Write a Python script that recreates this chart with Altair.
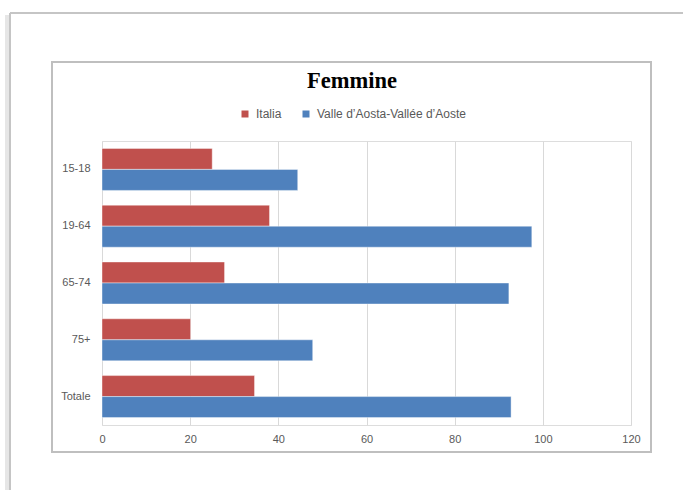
import altair as alt
import pandas as pd

title_text = "Femmine"
categories = ["15-18", "19-64", "65-74", "75+", "Totale"]
series = ["Italia", "Valle d’Aosta-Vallée d’Aoste"]
italia = [25.0, 38.0, 27.8, 20.1, 34.6]
valle = [44.4, 97.5, 92.3, 47.8, 92.8]
x_ticks = [0, 20, 40, 60, 80, 100, 120]
colors = ["#C0504D", "#4F81BD"]

rows = []
for c, a, b in zip(categories, italia, valle):
    rows.append({"cat": c, "serie": series[0], "val": a})
    rows.append({"cat": c, "serie": series[1], "val": b})
df = pd.DataFrame(rows)

W, H = 529, 284
PL, PT = 102, 141

bars = alt.Chart(df).mark_bar(stroke="white", strokeWidth=0.6, strokeOpacity=0.7).encode(
    y=alt.Y("cat:N", sort=categories, title=None,
            scale=alt.Scale(paddingInner=0.26, paddingOuter=0.13),
            axis=alt.Axis(domain=False, ticks=False, labelPadding=12, labelFontSize=11,
                          labelColor="#595959", labelFont="Liberation Sans")),
    yOffset=alt.YOffset("serie:N", sort=series),
    x=alt.X("val:Q", title=None, scale=alt.Scale(domain=[0, 120], nice=False),
            axis=alt.Axis(values=x_ticks, domain=False, ticks=False, grid=True,
                          gridColor="#D9D9D9", gridWidth=1, labelPadding=8, labelFlush=False,
                          labelFontSize=11, labelColor="#595959", labelFont="Liberation Sans")),
    color=alt.Color("serie:N", sort=series,
                    scale=alt.Scale(domain=series, range=colors),
                    legend=alt.Legend(title=None, orient="none", direction="horizontal",
                                      legendX=137, legendY=-33, symbolType="square",
                                      symbolSize=49, symbolStrokeWidth=0, labelFontSize=12,
                                      labelFont="Liberation Sans", labelColor="#595959",
                                      labelOffset=5, columnPadding=18)),
)

frame = alt.Chart(df).mark_rect(fill=None, stroke="#BFBFBF", strokeWidth=2).encode(
    x=alt.value(52 - PL), x2=alt.value(651 - PL),
    y=alt.value(62 - PT), y2=alt.value(452 - PT),
)

page_left_shadow = alt.Chart(df).mark_rule(stroke="#E6E6E6", strokeWidth=4).encode(
    x=alt.value(7 - PL), y=alt.value(15 - PT), y2=alt.value(490 - PT),
)
page_left = alt.Chart(df).mark_rule(stroke="#C4C4C4", strokeWidth=1.5).encode(
    x=alt.value(10 - PL), y=alt.value(13 - PT), y2=alt.value(490 - PT),
)
page_top = alt.Chart(df).mark_rule(stroke="#C4C4C4", strokeWidth=1.5).encode(
    y=alt.value(13 - PT), x=alt.value(10 - PL), x2=alt.value(683 - PL),
)

title = alt.Chart(pd.DataFrame({"t": [title_text]})).mark_text(
    font="Liberation Serif", fontSize=22.5, fontWeight="bold", color="#000000",
    align="center", baseline="middle",
).encode(text="t:N", x=alt.value(352 - PL), y=alt.value(81 - PT))

chart = alt.layer(page_left_shadow, page_left, page_top, frame, title, bars).properties(
    width=W, height=H,
    autosize=alt.AutoSizeParams(type="none"),
    padding={"left": PL, "top": PT, "right": 683 - PL - W, "bottom": 490 - PT - H},
).configure_view(stroke=None).configure(background="white")

chart.save("out.html", embed_options={"renderer": "svg", "actions": False})
